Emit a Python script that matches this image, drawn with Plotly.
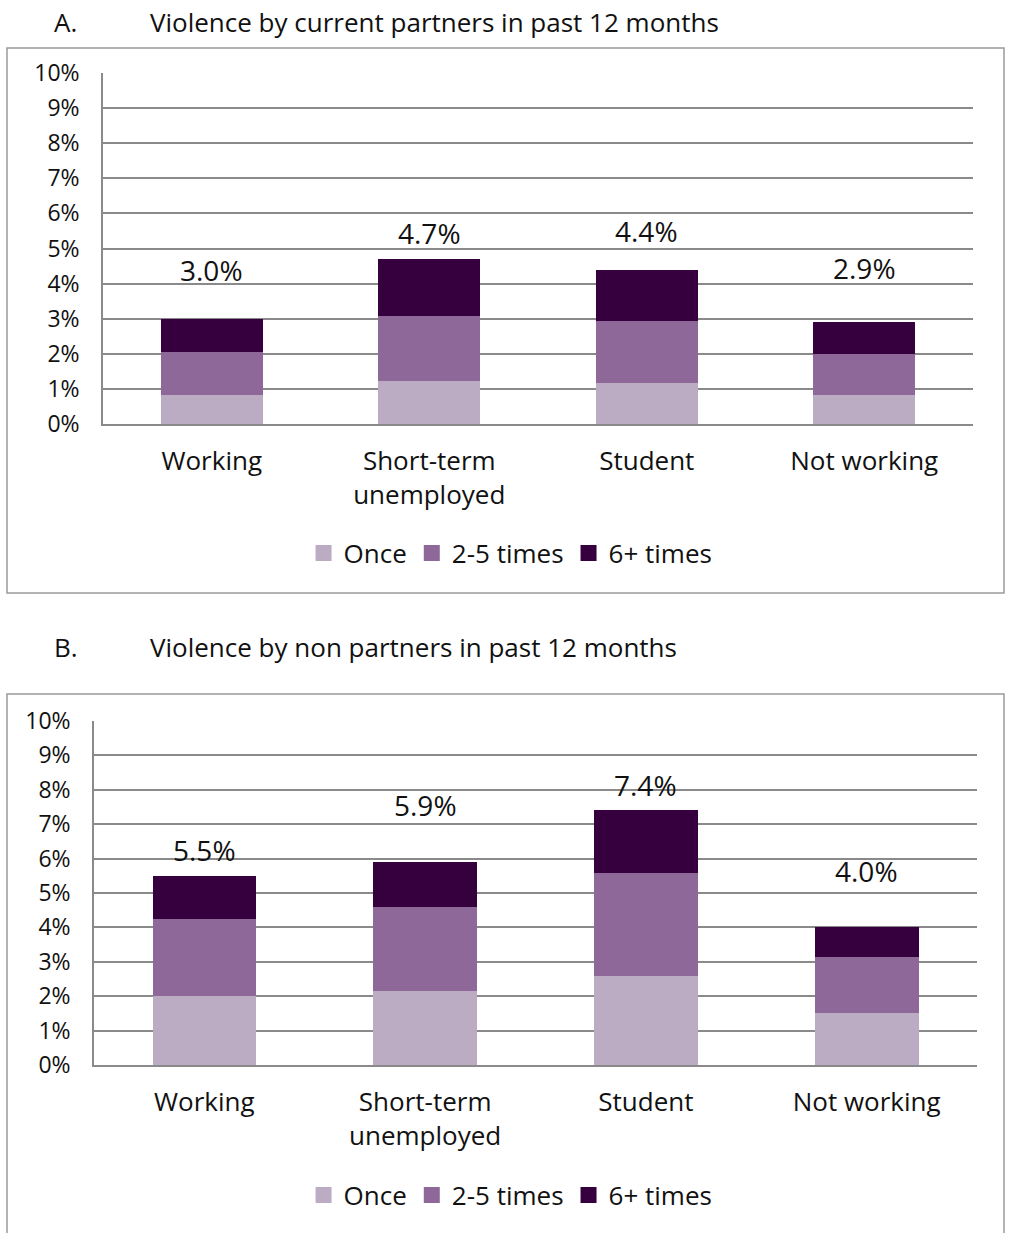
import plotly.graph_objects as go

categories = ["Working", "Short-term<br>unemployed", "Student", "Not working"]
series_names = ["Once", "2-5 times", "6+ times"]
colors = ["#BBABC3", "#8D6899", "#36003F"]

# panel A: violence by current partners (%)
a_once = [0.83, 1.22, 1.17, 0.83]
a_two_five = [1.22, 1.86, 1.76, 1.17]
a_six_plus = [0.95, 1.62, 1.47, 0.90]
a_totals = [3.0, 4.7, 4.4, 2.9]

# panel B: violence by non partners (%)
b_once = [2.00, 2.15, 2.59, 1.51]
b_two_five = [2.24, 2.45, 2.99, 1.63]
b_six_plus = [1.26, 1.30, 1.82, 0.86]
b_totals = [5.5, 5.9, 7.4, 4.0]

# where the total labels sit (y in axis units, as placed in the original)
a_label_y = [4.4, 5.45, 5.5, 4.45]
b_label_y = [6.25, 7.55, 8.15, 5.65]

W, H = 1009, 1233
FONT = "Open Sans"
INK = "#111111"


def px_x(v):
    return v / W


def px_y(v):
    return 1 - v / H


fig = go.Figure()

panels = [
    ("x", "y", "legend", [a_once, a_two_five, a_six_plus]),
    ("x2", "y2", "legend2", [b_once, b_two_five, b_six_plus]),
]
for xa, ya, leg, values in panels:
    for name, vals, col in zip(series_names, values, colors):
        fig.add_trace(go.Bar(
            x=categories, y=vals, name=name, marker_color=col,
            marker_line_width=0, xaxis=xa, yaxis=ya, showlegend=False,
        ))
    # square legend swatches like the original
    for name, col in zip(series_names, colors):
        fig.add_trace(go.Scatter(
            x=[None], y=[None], mode="markers", name=name,
            marker=dict(symbol="square", size=16, color=col),
            xaxis=xa, yaxis=ya, legend=leg,
        ))

for totals, ys, xref, yref in [(a_totals, a_label_y, "x", "y"),
                                (b_totals, b_label_y, "x2", "y2")]:
    for cat, t, yy in zip(categories, totals, ys):
        fig.add_annotation(x=cat, y=yy, xref=xref, yref=yref,
                           text=f"{t:.1f}%", showarrow=False,
                           font=dict(size=28, color=INK, family=FONT))

yaxis_common = dict(
    range=[0, 10], dtick=1, tickformat=".0f", ticksuffix="%",
    showgrid=True, gridcolor="#8a8a8a", gridwidth=1.5,
    showline=True, linecolor="#8a8a8a", linewidth=1.5,
    tickfont=dict(size=23, color=INK, family=FONT),
    ticks="outside", ticklen=17, tickcolor="rgba(0,0,0,0)",
    zeroline=False, automargin=False,
)
xaxis_common = dict(
    showline=True, linecolor="#8a8a8a", linewidth=1.5,
    tickfont=dict(size=26, color=INK, family=FONT),
    ticks="outside", ticklen=13, tickcolor="rgba(0,0,0,0)",
    automargin=False,
)
legend_common = dict(
    orientation="h", x=0.506, xanchor="center", yanchor="middle",
    font=dict(size=26, family=FONT, color=INK),
    itemwidth=30, traceorder="normal", tracegroupgap=0,
)

fig.update_layout(
    width=W, height=H,
    margin=dict(l=0, r=0, t=0, b=0, autoexpand=False),
    paper_bgcolor="white", plot_bgcolor="white",
    barmode="stack", bargap=0.53,
    font=dict(family=FONT, color=INK),
    xaxis=dict(domain=[px_x(103), px_x(973)], anchor="y", **xaxis_common),
    yaxis=dict(domain=[px_y(424), px_y(73)], anchor="x", **yaxis_common),
    xaxis2=dict(domain=[px_x(94), px_x(977)], anchor="y2", **xaxis_common),
    yaxis2=dict(domain=[px_y(1065), px_y(721)], anchor="x2", **yaxis_common),
    legend=dict(y=px_y(553), **legend_common),
    legend2=dict(y=px_y(1195), **legend_common),
    showlegend=True,
)

# panel frames
fig.add_shape(type="rect", xref="paper", yref="paper",
              x0=px_x(7), x1=px_x(1004), y0=px_y(593), y1=px_y(48),
              line=dict(color="#9a9a9a", width=1.5), layer="below")
fig.add_shape(type="rect", xref="paper", yref="paper",
              x0=px_x(7), x1=px_x(1004), y0=px_y(1245), y1=px_y(694),
              line=dict(color="#9a9a9a", width=1.5), layer="below")

# panel headings
for letter, title, yy in [("A.", "Violence by current partners in past 12 months", 22),
                          ("B.", "Violence by non partners in past 12 months", 647)]:
    fig.add_annotation(x=px_x(52), y=px_y(yy), xref="paper", yref="paper",
                       text=letter, showarrow=False, xanchor="left", yanchor="middle",
                       font=dict(size=26, family=FONT, color=INK))
    fig.add_annotation(x=px_x(148), y=px_y(yy), xref="paper", yref="paper",
                       text=title, showarrow=False, xanchor="left", yanchor="middle",
                       font=dict(size=26, family=FONT, color=INK))

fig.write_html(
    "out.html",
    config={"displayModeBar": False},
    post_script="document.body.style.margin='0';document.body.style.overflow='hidden';",
)
